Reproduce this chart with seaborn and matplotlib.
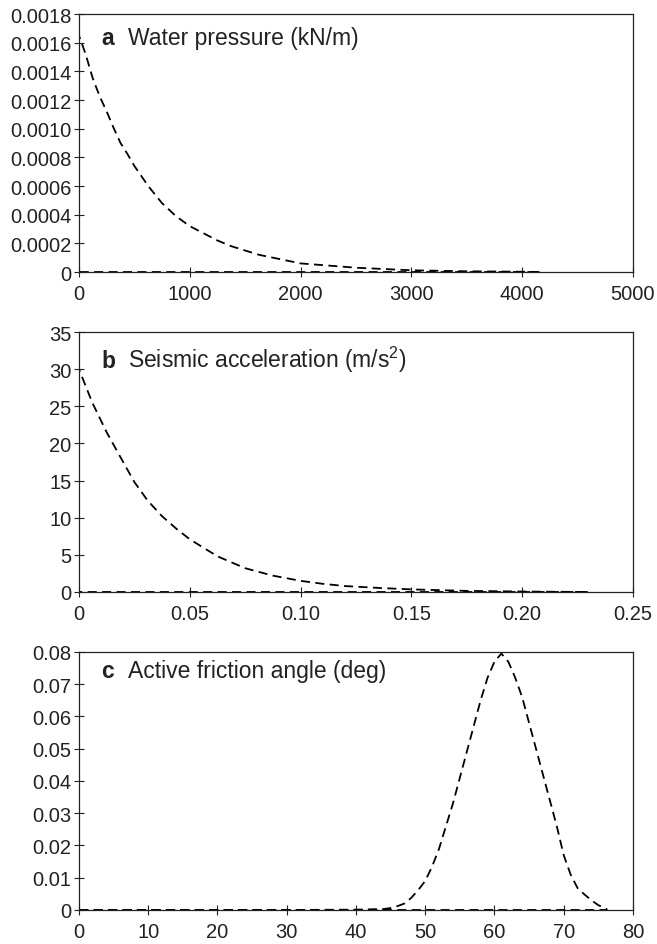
import matplotlib
matplotlib.use('Agg')
import matplotlib.pyplot as plt
import pandas as pd
import seaborn as sns

# Panel a: water pressure (outline: up the y axis, along the curve, back along the base)
water_x = [0, 0, 60, 125, 190, 250, 310, 375, 440, 500, 625, 750, 875, 1000, 1125,
           1250, 1375, 1500, 1625, 1750, 2000, 2250, 2500, 3000, 3500, 4000, 4167, 0]
water_y = [0, 0.00165, 0.00152, 0.00135, 0.00122, 0.00112, 0.00101, 0.00090,
           0.00082, 0.00074, 0.00060, 0.00048, 0.00039, 0.00032, 0.00027,
           0.00022, 0.00018, 0.00015, 0.00012, 0.00010, 0.00006, 0.000045,
           0.00003, 0.000012, 0.000005, 0.000002, 0, 0]

# Panel b: seismic acceleration
seis_x = [0, 0, 0.006, 0.0125, 0.019, 0.025, 0.031, 0.0375, 0.044, 0.05, 0.0625,
          0.075, 0.0875, 0.10, 0.11, 0.12, 0.135, 0.15, 0.175, 0.20, 0.23, 0]
seis_y = [0, 30, 25.5, 21.5, 18.0, 14.8, 12.3, 10.2, 8.5, 7.1, 4.8,
          3.2, 2.2, 1.5, 1.1, 0.8, 0.55, 0.35, 0.15, 0.06, 0, 0]

# Panel c: active friction angle
fric_x = [0, 10, 20, 30, 40, 44, 45, 46, 47, 48, 49, 50, 51, 52, 53, 54, 55, 56,
          57, 58, 59, 60, 61, 62, 63, 64, 65, 66, 67, 68, 69, 70, 71, 72, 73, 74,
          75, 76.2, 76.2, 0]
fric_y = [0, 0, 0, 0, 0.0001, 0.0003, 0.0006, 0.0012, 0.002, 0.0038, 0.0062,
          0.009, 0.0135, 0.019, 0.026, 0.033, 0.041, 0.049, 0.057, 0.065, 0.072,
          0.077, 0.0795, 0.077, 0.072, 0.066, 0.058, 0.050, 0.042, 0.034, 0.026,
          0.017, 0.011, 0.0068, 0.0048, 0.003, 0.0015, 0.0003, 0, 0]

a_xticks = [0, 1000, 2000, 3000, 4000, 5000]
a_yticks = [0, 0.0002, 0.0004, 0.0006, 0.0008, 0.0010, 0.0012, 0.0014, 0.0016, 0.0018]
a_ylabels = ['0', '0.0002', '0.0004', '0.0006', '0.0008', '0.0010', '0.0012',
             '0.0014', '0.0016', '0.0018']
b_xticks = [0, 0.05, 0.10, 0.15, 0.20, 0.25]
b_xlabels = ['0', '0.05', '0.10', '0.15', '0.20', '0.25']
b_yticks = [0, 5, 10, 15, 20, 25, 30, 35]
c_xticks = [0, 10, 20, 30, 40, 50, 60, 70, 80]
c_yticks = [0, 0.01, 0.02, 0.03, 0.04, 0.05, 0.06, 0.07, 0.08]
c_ylabels = ['0', '0.01', '0.02', '0.03', '0.04', '0.05', '0.06', '0.07', '0.08']

sns.set_style('ticks')
plt.rcParams['font.family'] = ['Liberation Sans', 'DejaVu Sans']
plt.rcParams['mathtext.default'] = 'regular'

fig = plt.figure(figsize=(6.57, 9.45), dpi=100)
left, width = 0.1202, 0.8432
ax1 = fig.add_axes([left, 0.7111, width, 0.2730])
ax2 = fig.add_axes([left, 0.3725, width, 0.2751])
ax3 = fig.add_axes([left, 0.0360, width, 0.2730])

panels = [
    (ax1, water_x, water_y, a_xticks, [str(t) for t in a_xticks], a_yticks, a_ylabels,
     (0, 5000), (0, 0.0018), 'a', 'Water pressure (kN/m)', 0.884),
    (ax2, seis_x, seis_y, b_xticks, b_xlabels, b_yticks, [str(t) for t in b_yticks],
     (0, 0.25), (0, 35), 'b', 'Seismic acceleration (m/s$^{2}$)', 0.865),
    (ax3, fric_x, fric_y, c_xticks, [str(t) for t in c_xticks], c_yticks, c_ylabels,
     (0, 80), (0, 0.08), 'c', 'Active friction angle (deg)', 0.905),
]

for ax, xs, ys, xt, xl, yt, yl, xlim, ylim, letter, label, ty in panels:
    df = pd.DataFrame({'x': xs, 'y': ys})
    sns.lineplot(data=df, x='x', y='y', ax=ax, sort=False, estimator=None,
                 color='black', linewidth=1.3, linestyle=(0, (5, 3)))
    ax.set_xlim(*xlim)
    ax.set_ylim(*ylim)
    ax.set_xticks(xt)
    ax.set_xticklabels(xl)
    ax.set_yticks(yt)
    ax.set_yticklabels(yl)
    ax.set_xlabel('')
    ax.set_ylabel('')
    ax.tick_params(direction='inout', length=7, width=0.8, labelsize=14.5,
                   colors='#222222')
    ax.tick_params(axis='x', pad=5)
    ax.tick_params(axis='y', pad=2)
    for s in ax.spines.values():
        s.set_visible(True)
        s.set_linewidth(0.9)
        s.set_color('#222222')
    ax.text(0.04, ty, letter, transform=ax.transAxes, fontsize=16.5,
            fontweight='bold', color='#222222')
    ax.text(0.088, ty, label, transform=ax.transAxes, fontsize=16.5, color='#222222')

fig.savefig('out.png', dpi=100)
